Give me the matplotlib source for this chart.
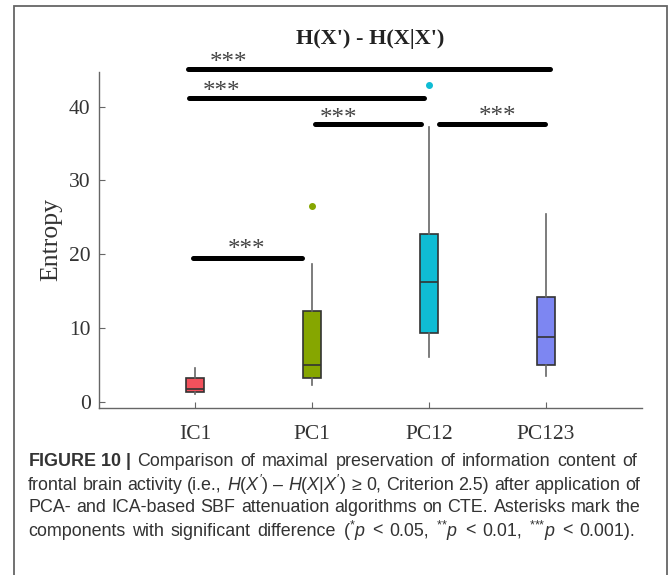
import matplotlib
matplotlib.use("Agg")
import matplotlib.pyplot as plt
from matplotlib.patches import Rectangle

# Box summary per method (entropy, bits)
groups = ["IC1", "PC1", "PC12", "PC123"]
whis_low = [1.1, 2.2, 6.1, 3.5]
q1 = [1.3, 3.15, 9.3, 5.0]
medians = [1.75, 5.0, 16.2, 8.8]
q3 = [3.25, 12.35, 22.7, 14.15]
whis_high = [4.6, 18.7, 37.2, 25.5]
outliers = [[], [26.5], [42.9], []]
box_colors = ["#f2515c", "#86a600", "#0fbcd4", "#7d86f2"]

# Significance brackets: start, end (group positions), height, star position
sig_start = [0.94, 0.95, 2.03, 3.09, 0.98]
sig_end = [4.04, 2.96, 2.93, 3.99, 1.92]
sig_y = [45.15, 41.2, 37.65, 37.65, 19.45]
star_x = [1.29, 1.23, 2.23, 3.59, 1.44]
star_y = [46.8, 42.9, 39.3, 39.55, 21.5]
star_text = ["***", "***", "***", "***", "***"]

# Caption, one list of words per line
caption_lines = [
    [r"$\mathbf{FIGURE\ 10\ |}$", "Comparison", "of", "maximal", "preservation",
     "of", "information", "content", "of"],
    ["frontal", "brain", "activity", "(i.e.,", r"$H(X')$", "–", r"$H(X|X')$",
     "≥", "0,", "Criterion", "2.5)", "after", "application", "of"],
    ["PCA-", "and", "ICA-based", "SBF", "attenuation", "algorithms", "on",
     "CTE.", "Asterisks", "mark", "the"],
    ["components", "with", "significant", "difference", r"($^{{*}}p$", "<",
     "0.05,", r"$^{{*}{*}}p$", "<", "0.01,", r"$^{{*}{*}{*}}p$", "<", "0.001)."],
]
caption_right = [637, 640, 641, 635]

plt.rcParams["mathtext.fontset"] = "custom"
plt.rcParams["mathtext.rm"] = "Liberation Sans"
plt.rcParams["mathtext.it"] = "Liberation Sans:italic"
plt.rcParams["mathtext.bf"] = "Liberation Sans:bold"

fig = plt.figure(figsize=(6.69, 5.75), dpi=100)
ax = fig.add_axes([0.148, 0.29, 0.811, 0.5853])

stats = []
for i, g in enumerate(groups):
    stats.append(dict(label=g, whislo=whis_low[i], q1=q1[i], med=medians[i],
                      q3=q3[i], whishi=whis_high[i], fliers=outliers[i]))

positions = list(range(1, len(groups) + 1))
bp = ax.bxp(stats, positions=positions, widths=0.155, patch_artist=True,
            showcaps=False,
            boxprops=dict(edgecolor="#333333", linewidth=1.2),
            medianprops=dict(color="#333333", linewidth=1.2),
            whiskerprops=dict(color="#666666", linewidth=1.2))
for patch, c in zip(bp["boxes"], box_colors):
    patch.set_facecolor(c)
for fl, c in zip(bp["fliers"], box_colors):
    fl.set(marker="o", markersize=4, markerfacecolor=c, markeredgecolor=c)

for x0, x1, y in zip(sig_start, sig_end, sig_y):
    ax.plot([x0, x1], [y, y], color="black", linewidth=3.6,
            solid_capstyle="round", clip_on=False, zorder=5)
for x, y, s in zip(star_x, star_y, star_text):
    ax.text(x, y - 1.75, s, ha="center", va="baseline", fontsize=18,
            family="Liberation Serif", color="#444444", clip_on=False)

ax.set_xlim(0.18, 4.82)
ax.set_ylim(-0.9, 44.75)
ax.set_yticks([0, 10, 20, 30, 40])
ax.set_xticks(positions)
ax.set_xticklabels(groups)
for side in ["top", "right"]:
    ax.spines[side].set_visible(False)
for side in ["left", "bottom"]:
    ax.spines[side].set_color("#666666")
    ax.spines[side].set_linewidth(1.0)
ax.tick_params(direction="in", length=4, color="#666666", labelsize=15.5,
               labelcolor="#333333")
ax.tick_params(axis="x", pad=12)
ax.tick_params(axis="y", pad=6)
for lbl in ax.get_xticklabels() + ax.get_yticklabels():
    lbl.set_family("Liberation Serif")

ax.set_ylabel("Entropy", family="Liberation Serif", fontsize=18.5,
              color="#333333", labelpad=5)
fig.text(0.553, 0.932, "H(X') - H(X|X')", ha="center", va="center",
         family="Liberation Serif", fontweight="bold", fontsize=16,
         color="#222222")

# Outer frame around figure and caption
frame = Rectangle((14 / 669, -0.05), (667 - 14) / 669, 1.05 - 6 / 575,
                  transform=fig.transFigure, fill=False, edgecolor="#666666",
                  linewidth=1.3, clip_on=False)
fig.patches.append(frame)

# Justified caption: measure each word, spread the leftover space evenly
renderer = fig.canvas.get_renderer()
cap_left = 28
cap_y = [461, 485, 508, 531]
for words, y, right in zip(caption_lines, cap_y, caption_right):
    texts = [fig.text(0, 1 - y / 575, w, ha="left", va="center",
                      family="Liberation Sans", fontsize=12.9, color="#333333")
             for w in words]
    widths = [t.get_window_extent(renderer).width for t in texts]
    gap = (right - cap_left - sum(widths)) / (len(words) - 1)
    x = cap_left
    for t, w in zip(texts, widths):
        t.set_x(x / 669)
        x += w + gap

fig.savefig("out.png", dpi=100)
